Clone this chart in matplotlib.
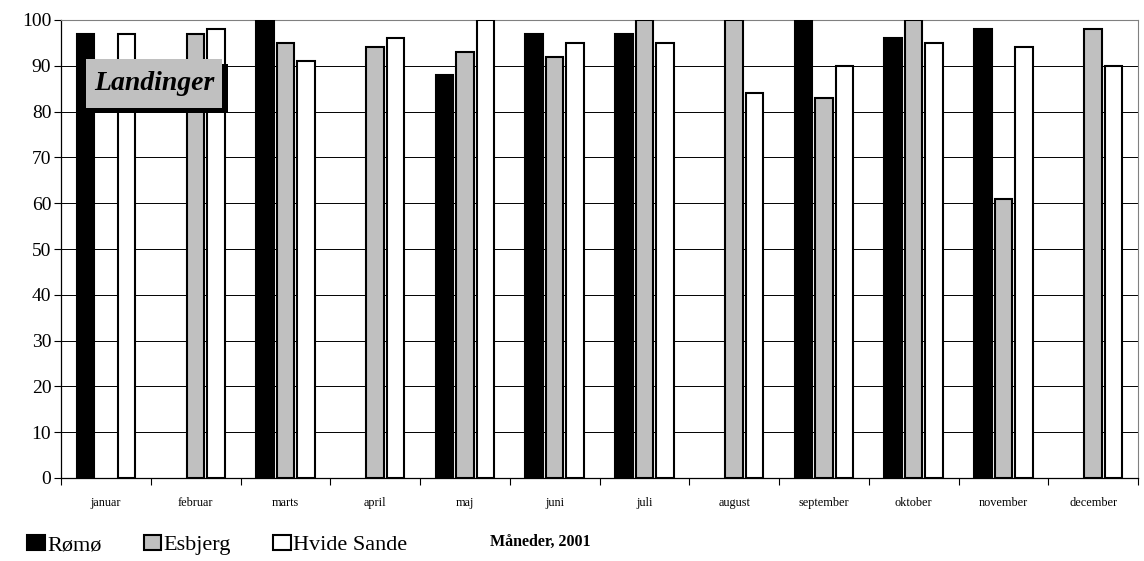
import matplotlib
matplotlib.use('Agg')
import matplotlib.pyplot as plt
from matplotlib.patches import Patch, Rectangle
import numpy as np

plt.rcParams['font.family'] = ['Liberation Serif', 'DejaVu Serif']

# Monthly landing values per harbour (None = no landing recorded)
months = ['januar', 'februar', 'marts', 'april', 'maj', 'juni', 'juli',
          'august', 'september', 'oktober', 'november', 'december']
romo = [97, None, 100, None, 88, 97, 97, None, 100, 96, 98, None]
esbjerg = [None, 97, 95, 94, 93, 92, 100, 100, 83, 100, 61, 98]
hvide_sande = [97, 98, 91, 96, 100, 95, 95, 84, 90, 95, 94, 90]

series = [('Rømø', romo, 'black'),
          ('Esbjerg', esbjerg, '#c0c0c0'),
          ('Hvide Sande', hvide_sande, 'white')]

fig = plt.figure(figsize=(11.44, 5.61), dpi=100)
ax = fig.add_axes([61 / 1144, 83 / 561, 1077 / 1144, 458 / 561])

centers = np.arange(len(months)) + 0.5
width = 0.195
step = 0.228

for i, (name, vals, color) in enumerate(series):
    heights = np.array([np.nan if v is None else v for v in vals], dtype=float)
    ax.bar(centers + (i - 1) * step, heights, width=width, color=color,
           edgecolor='black', linewidth=1.5, zorder=3)

ax.set_xlim(0, len(months))
ax.set_ylim(0, 100)
ax.set_yticks(range(0, 101, 10))
ax.tick_params(axis='y', labelsize=14, length=5, width=0.8, pad=2)

# group boundaries get tick marks, month names sit between them
ax.set_xticks(np.arange(len(months) + 1))
ax.set_xticklabels([])
ax.set_xticks(centers, minor=True)
ax.set_xticklabels(months, minor=True, fontsize=8.8)
ax.tick_params(axis='x', which='major', length=5, width=0.8, direction='out')
ax.tick_params(axis='x', which='minor', length=0, pad=14)

ax.yaxis.grid(True, color='black', linewidth=0.7)
ax.set_axisbelow(True)
for s in ['left', 'bottom']:
    ax.spines[s].set_color('black')
    ax.spines[s].set_linewidth(0.9)
for s in ['top', 'right']:
    ax.spines[s].set_color('#808080')
    ax.spines[s].set_linewidth(0.8)

# title box with drop shadow
fig.add_artist(Rectangle((92 / 1144, 1 - 113 / 561), 136 / 1144, 49 / 561,
                         transform=fig.transFigure, facecolor='black',
                         edgecolor='none', zorder=5))
fig.add_artist(Rectangle((86 / 1144, 1 - 108 / 561), 136 / 1144, 49 / 561,
                         transform=fig.transFigure, facecolor='#c0c0c0',
                         edgecolor='none', zorder=6))
fig.text(154 / 1144, 1 - 84 / 561, 'Landinger', fontsize=20,
         fontweight='bold', fontstyle='italic', ha='center', va='center',
         zorder=7)

fig.text(540 / 1144, 1 - 542 / 561, 'Måneder, 2001', fontsize=11.5,
         fontweight='bold', ha='center', va='center')

handles = [Patch(facecolor=c, edgecolor='black', linewidth=1.5, label=n)
           for n, _, c in series]
fig.legend(handles=handles, loc='center left',
           bbox_to_anchor=(27 / 1144, 1 - 545 / 561), ncol=3, frameon=False,
           fontsize=16, handlelength=0.8, handleheight=0.65,
           handletextpad=0.1, columnspacing=1.9, borderpad=0,
           borderaxespad=0)

plt.savefig('out.png', dpi=100)
